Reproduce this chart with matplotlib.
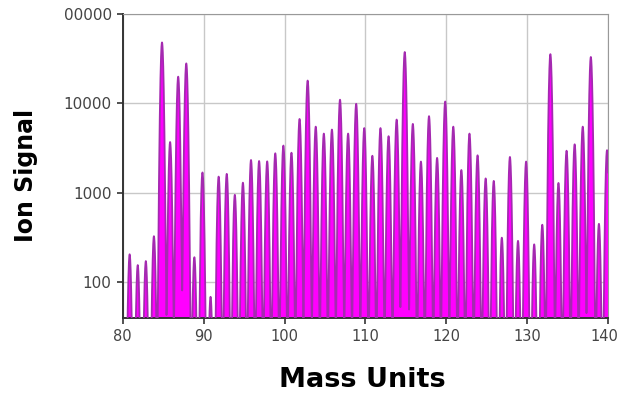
import numpy as np
import matplotlib
matplotlib.use('Agg')
import matplotlib.pyplot as plt
from matplotlib.transforms import ScaledTranslation

# Peak heights, one per mass unit (80..140)
masses = np.arange(80, 141)
heights = [60, 205, 155, 172, 327, 48000, 3700, 19900, 28000, 190,
           1690, 68, 1520, 1630, 950, 1300, 2330, 2270, 2250, 2770,
           3380, 2810, 6700, 18000, 5500, 4600, 5100, 11000, 4600, 9900,
           5300, 2600, 5300, 4300, 6600, 37500, 5900, 2240, 7200, 2460,
           10500, 5500, 1800, 4600, 2630, 1450, 1360, 315, 2520, 290,
           2240, 265, 440, 35500, 1290, 2960, 3490, 5500, 33000, 450,
           3000]
mass_offset = -0.15   # peaks sit slightly left of the integer mass
peak_sigma = 0.14

y_ticks = [100, 1000, 10000, 100000]
y_tick_labels = ['100', '1000', '10000', '00000']
x_ticks = [80, 90, 100, 110, 120, 130, 140]

# Build the spectrum trace from the peak list
x = np.linspace(80, 140, 12001)
signal = np.full_like(x, 1.0)
for m, h in zip(masses, heights):
    signal += h * np.exp(-0.5 * ((x - (m + mass_offset)) / peak_sigma) ** 2)

fig = plt.figure(figsize=(6.2, 3.98), dpi=100)
ax = fig.add_axes([0.198, 0.201, 0.783, 0.764])

ax.fill_between(x, 1, signal, color='#FF00FF', linewidth=0, zorder=2)
ax.plot(x, signal, color='#A42AB0', linewidth=1.3, zorder=3)

ax.set_yscale('log')
ax.set_ylim(40, 100000)
ax.set_xlim(80, 140)
ax.set_yticks(y_ticks)
ax.set_yticklabels(y_tick_labels)
ax.yaxis.set_minor_locator(matplotlib.ticker.NullLocator())
ax.set_xticks(x_ticks)

ax.grid(True, color='#c8c8c8', linewidth=1.0, zorder=0)
ax.set_axisbelow(True)
for side in ['top', 'right']:
    ax.spines[side].set_color('#999999')
for side in ['left', 'bottom']:
    ax.spines[side].set_color('#333333')
    ax.spines[side].set_linewidth(1.4)
ax.tick_params(axis='both', direction='out', length=4, width=1.2,
               color='#333333', labelcolor='#444444', pad=4)
ax.tick_params(axis='x', labelsize=10.5)
ax.tick_params(axis='y', labelsize=11)

# nudge the last x label so it stays inside the figure
last = ax.get_xticklabels()[-1]
last.set_transform(last.get_transform() + ScaledTranslation(-4 / 100, 0, fig.dpi_scale_trans))

fig.text(0.585, 0.045, 'Mass Units', ha='center', va='center',
         fontsize=19.5, fontweight='heavy')
fig.text(0.042, 0.56, 'Ion Signal', ha='center', va='center',
         rotation=90, fontsize=17, fontweight='heavy')

fig.savefig('out.png', dpi=100)
